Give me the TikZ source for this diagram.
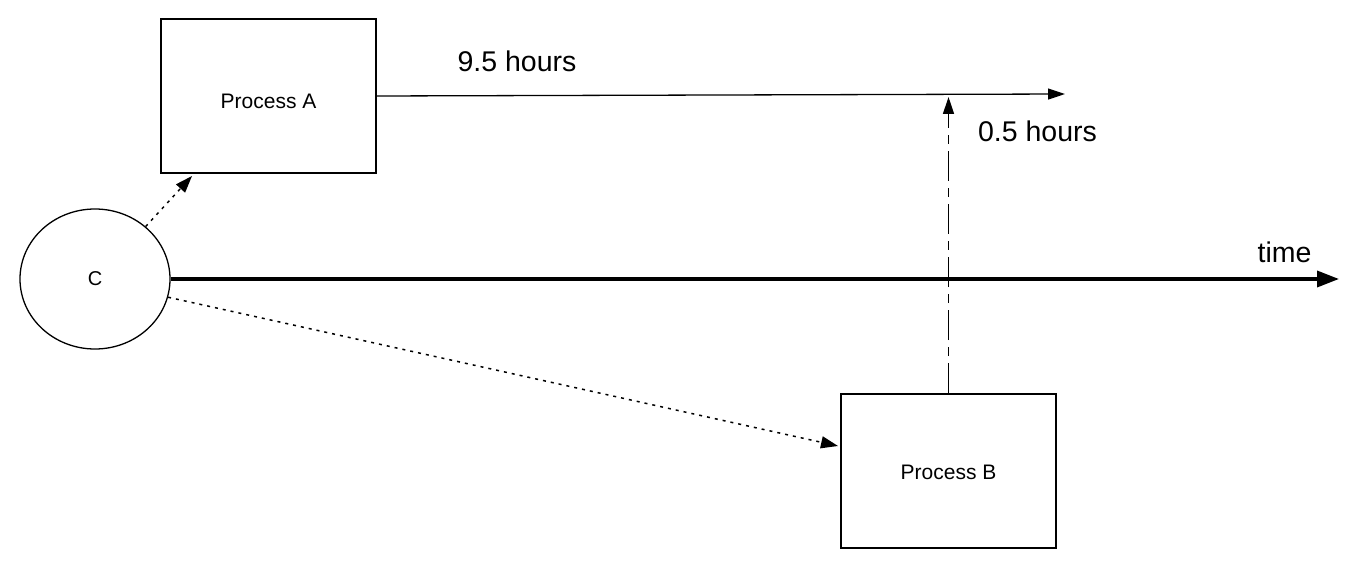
\documentclass[tikz,border=0pt]{standalone}
\usepackage{fontspec}
\setmainfont{Liberation Sans}
\usetikzlibrary{arrows.meta,shapes.geometric}
\tikzset{
  procbox/.style={draw=black, line width=2pt, minimum width=215pt, minimum height=154pt, inner sep=0pt, font=\fontsize{21}{24}\selectfont},
  bignote/.style={anchor=base, inner sep=0pt, font=\fontsize{28.5}{32}\selectfont},
  dotconn/.style={line width=1.5pt, dash pattern=on 3pt off 5pt, -{Triangle[length=17pt,width=12pt]}},
  dashconn/.style={line width=1.5pt, dash pattern=on 30pt off 7pt on 9pt off 7pt, -{Triangle[length=17pt,width=11pt]}},
  thinarrow/.style={line width=1.3pt, -{Triangle[length=17pt,width=11pt]}},
  timearrow/.style={line width=3.5pt, -{Triangle[length=22pt,width=16pt]}}
}
\begin{document}
\begin{tikzpicture}[x=1pt,y=-1pt]
\useasboundingbox (0,0) rectangle (1367,569);
% nodes
\node[procbox, text height=24.6pt, text depth=0pt] (A) at (268.5,96) {Process A};
\node[procbox, text height=16pt, text depth=0pt] (B) at (948.5,471) {Process B};
\node[draw=black, line width=1.3pt, ellipse, minimum width=150pt, minimum height=140pt, inner sep=0pt, font=\fontsize{20}{24}\selectfont] (C) at (95,279) {C};
% coordinates
\coordinate (aEnd) at (1065,94);
\coordinate (vEnd) at (948.5,97);
\coordinate (tEnd) at (1339,279);
% labels
\node[bignote] (l1) at (517,71.7) {9.5 hours};
\node[bignote] (l2) at (1037.5,141.7) {0.5 hours};
\node[bignote] (l3) at (1284.5,262) {time};
% connectors
\draw[thinarrow] (A.east) -- (aEnd);
\draw[timearrow] (C.east) -- (tEnd);
\draw[dashconn] (B.north) -- (vEnd);
\draw[dotconn] (C.46) -- ([xshift=32pt,yshift=-2pt]A.south west);
\draw[dotconn] (C.-14) -- ([xshift=-2pt,yshift=25pt]B.west);
\end{tikzpicture}
\end{document}
